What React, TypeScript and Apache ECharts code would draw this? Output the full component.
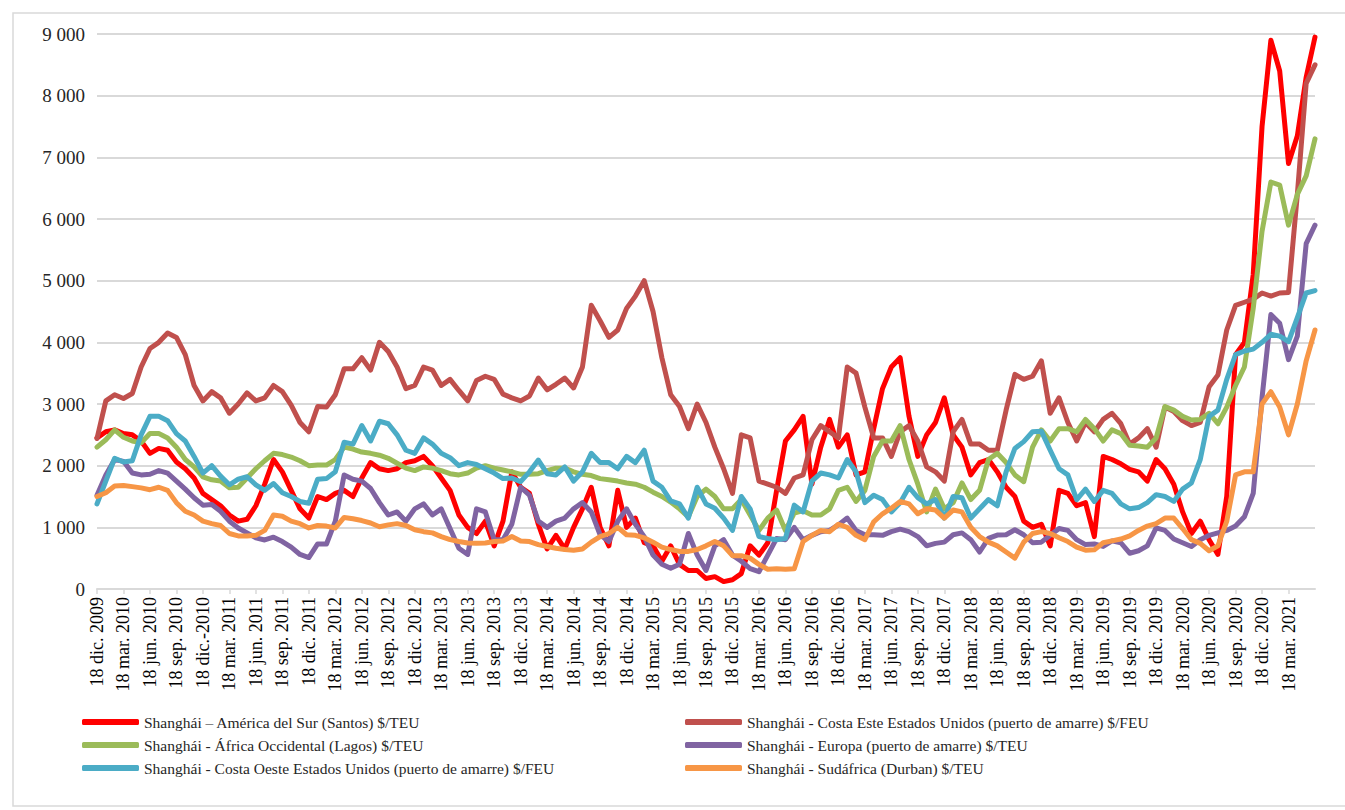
import { useEffect, useRef } from "react";
import * as echarts from "echarts";

// Quarterly tick labels (as printed on the original axis)
const quarterLabels = [
  "18 dic. 2009",
  "18 mar. 2010", "18 jun. 2010", "18 sep. 2010", "18 dic.-2010",
  "18 mar. 2011", "18 jun. 2011", "18 sep. 2011", "18 dic. 2011",
  "18 mar. 2012", "18 jun. 2012", "18 sep. 2012", "18 dic. 2012",
  "18 mar. 2013", "18 jun. 2013", "18 sep. 2013", "18 dic. 2013",
  "18 mar. 2014", "18 jun. 2014", "18 sep. 2014", "18 dic. 2014",
  "18 mar. 2015", "18 jun. 2015", "18 sep. 2015", "18 dic. 2015",
  "18 mar. 2016", "18 jun. 2016", "18 sep. 2016", "18 dic. 2016",
  "18 mar. 2017", "18 jun. 2017", "18 sep. 2017", "18 dic. 2017",
  "18 mar. 2018", "18 jun. 2018", "18 sep. 2018", "18 dic. 2018",
  "18 mar. 2019", "18 jun. 2019", "18 sep. 2019", "18 dic. 2019",
  "18 mar. 2020", "18 jun. 2020", "18 sep. 2020", "18 dic. 2020",
  "18 mar. 2021",
];

const seriesNames = [
  "Shanghái – América del Sur (Santos) $/TEU",
  "Shanghái - Costa Este Estados Unidos (puerto de amarre) $/FEU",
  "Shanghái - África Occidental (Lagos) $/TEU",
  "Shanghái - Europa (puerto de amarre) $/TEU",
  "Shanghái - Costa Oeste Estados Unidos (puerto de amarre) $/FEU",
  "Shanghái - Sudáfrica (Durban) $/TEU",
];

// Monthly readings, Dec 2009 .. Jun 2021
const santos = [
  2450,
  2550, 2580, 2520, 2500, 2400, 2200, 2280, 2250, 2060, 1950, 1800, 1550,
  1450, 1350, 1200, 1100, 1130, 1350, 1700, 2100, 1900, 1600, 1300, 1150,
  1500, 1450, 1550, 1600, 1500, 1800, 2050, 1950, 1920, 1950, 2050, 2080,
  2150, 2000, 1800, 1600, 1200, 1000, 900, 1100, 700, 1100, 1900, 1650,
  1550, 1050, 650, 870, 650, 1000, 1300, 1650, 1000, 700, 1600, 1000,
  1150, 750, 700, 450, 700, 400, 300, 300, 170, 200, 120, 150,
  250, 700, 550, 750, 1600, 2400, 2580, 2800, 1700, 2300, 2750, 2300,
  2500, 1850, 1900, 2600, 3250, 3600, 3750, 2800, 2150, 2500, 2700, 3100,
  2500, 2300, 1850, 2050, 2100, 1900, 1650, 1500, 1100, 1000, 1050, 700,
  1600, 1550, 1350, 1400, 850, 2150, 2100, 2030, 1940, 1900, 1750, 2100,
  1950, 1700, 1250, 900, 1100, 800, 560, 1500, 3800, 4000, 5100, 7500,
  8900, 8400, 6900, 7350, 8300, 8950,
];

const costaEste = [
  2440,
  3050, 3150, 3090, 3170, 3600, 3900, 4000, 4150, 4080, 3800, 3300, 3050,
  3200, 3100, 2850, 3000, 3180, 3050, 3100, 3300, 3200, 2980, 2700, 2550,
  2960, 2950, 3150, 3570, 3570, 3750, 3550, 4000, 3850, 3600, 3250, 3300,
  3600, 3550, 3300, 3400, 3220, 3050, 3380, 3450, 3400, 3160, 3100, 3050,
  3130, 3420, 3230, 3320, 3420, 3260, 3600, 4600, 4350, 4080, 4200, 4550,
  4750, 5000, 4500, 3750, 3150, 2960, 2600, 3000, 2700, 2300, 1950, 1550,
  2500, 2450, 1750, 1700, 1650, 1550, 1800, 1850, 2420, 2650, 2550, 2450,
  3600, 3500, 2950, 2450, 2450, 2150, 2550, 2650, 2400, 1980, 1900, 1750,
  2550, 2750, 2350, 2350, 2250, 2250, 2900, 3480, 3400, 3450, 3700, 2850,
  3100, 2700, 2400, 2700, 2550, 2750, 2850, 2680, 2350, 2450, 2600, 2300,
  2950, 2880, 2730, 2650, 2700, 3280, 3470, 4200, 4600, 4650, 4700, 4800,
  4750, 4800, 4810, 6400, 8200, 8500,
];

const lagos = [
  2300,
  2420, 2580, 2460, 2400, 2370, 2520, 2520, 2450, 2300, 2100, 1980, 1820,
  1770, 1750, 1640, 1650, 1800, 1950, 2080, 2200, 2180, 2140, 2080, 2000,
  2010, 2010, 2100, 2300, 2270, 2220, 2200, 2170, 2120, 2040, 1960, 1920,
  1980, 1960, 1920, 1870, 1850, 1880, 1960, 2000, 1960, 1930, 1900, 1860,
  1860, 1870, 1920, 1960, 1960, 1900, 1860, 1840, 1790, 1770, 1750, 1720,
  1700, 1650, 1570, 1500, 1410, 1300, 1170, 1500, 1620, 1500, 1300, 1300,
  1450, 1200, 950, 1150, 1280, 950, 1230, 1270, 1200, 1200, 1300, 1600,
  1650, 1420, 1600, 2150, 2400, 2400, 2650, 2100, 1700, 1250, 1620, 1300,
  1400, 1720, 1450, 1600, 2100, 2200, 2050, 1850, 1740, 2300, 2580, 2400,
  2600, 2600, 2550, 2750, 2600, 2400, 2580, 2520, 2330, 2320, 2300, 2450,
  2960, 2900, 2800, 2740, 2750, 2850, 2680, 2950, 3300, 3600, 4550, 5800,
  6600, 6550, 5900, 6400, 6700, 7300,
];

const europa = [
  1520,
  1850, 2100, 2070, 1880, 1850, 1860, 1920, 1880, 1750, 1620, 1480, 1360,
  1370, 1260, 1100, 990, 910, 830, 795, 840, 770, 680, 560, 510,
  730, 730, 1100, 1850, 1780, 1750, 1630, 1400, 1200, 1250, 1100, 1300,
  1380, 1200, 1300, 980, 660, 560, 1300, 1250, 800, 800, 1050, 1650,
  1520, 1100, 1000, 1100, 1150, 1300, 1400, 1250, 880, 770, 1100, 1300,
  1050, 850, 550, 400, 335, 400, 900, 550, 300, 700, 800, 550,
  450, 330, 280, 550, 820, 800, 1000, 800, 870, 930, 950, 1040,
  1150, 950, 880, 880, 870, 930, 970, 930, 850, 700, 740, 760,
  880, 910, 800, 600, 820, 875, 880, 960, 880, 750, 760, 870,
  980, 950, 800, 720, 730, 690, 780, 750, 580, 620, 700, 990,
  950, 810, 750, 690, 800, 870, 910, 950, 1020, 1170, 1550, 3100,
  4450, 4310, 3720, 4100, 5600, 5900,
];

const costaOeste = [
  1380,
  1750, 2120, 2060, 2080, 2500, 2800, 2800, 2730, 2520, 2400, 2150, 1880,
  2000, 1830, 1690, 1780, 1820, 1690, 1600, 1710, 1560, 1500, 1420, 1390,
  1780, 1790, 1900, 2380, 2350, 2650, 2400, 2720, 2680, 2500, 2250, 2200,
  2450, 2350, 2200, 2130, 2000, 2050, 2020, 1950, 1880, 1790, 1800, 1740,
  1900, 2090, 1870, 1850, 1980, 1750, 1900, 2200, 2050, 2050, 1950, 2150,
  2050, 2250, 1750, 1650, 1430, 1380, 1150, 1650, 1380, 1310, 1150, 950,
  1500, 1300, 850, 820, 800, 820, 1360, 1250, 1750, 1880, 1850, 1800,
  2100, 1900, 1400, 1520, 1450, 1250, 1400, 1650, 1480, 1380, 1450, 1150,
  1500, 1480, 1150, 1300, 1450, 1350, 1900, 2280, 2390, 2550, 2560, 2250,
  1950, 1850, 1450, 1620, 1420, 1600, 1550, 1380, 1300, 1320, 1400, 1530,
  1500, 1420, 1620, 1720, 2100, 2800, 2900, 3400, 3800, 3860, 3890, 4000,
  4130, 4100, 4010, 4400, 4800, 4840,
];

const durban = [
  1500,
  1560, 1670, 1680, 1660, 1640, 1610, 1650, 1600, 1400, 1260, 1200, 1100,
  1060, 1030, 900, 860, 860, 870, 950, 1200, 1180, 1100, 1060, 990,
  1030, 1020, 990, 1160, 1140, 1110, 1070, 1010, 1040, 1060, 1030, 960,
  930, 910, 850, 800, 770, 745, 740, 745, 770, 780, 850, 780,
  770, 720, 690, 660, 640, 630, 650, 760, 850, 900, 1000, 880,
  870, 830, 760, 680, 640, 610, 610, 640, 700, 770, 700, 540,
  540, 500, 400, 320, 330, 320, 330, 770, 870, 950, 930, 1050,
  1000, 870, 800, 1090, 1220, 1310, 1420, 1380, 1220, 1300, 1280, 1150,
  1280, 1250, 1000, 850, 760, 700, 600, 500, 760, 900, 930, 900,
  830, 770, 680, 630, 635, 750, 780, 810, 860, 950, 1020, 1060,
  1150, 1150, 980, 800, 740, 620, 700, 1100, 1850, 1900, 1900, 3000,
  3200, 2950, 2500, 3000, 3700, 4200,
];

const monthAbbr = ["ene.", "feb.", "mar.", "abr.", "may.", "jun.", "jul.", "ago.", "sep.", "oct.", "nov.", "dic."];

const seriesData = [santos, costaEste, lagos, europa, costaOeste, durban];
const colors = ["#FF0000", "#C0504D", "#9BBB59", "#8064A2", "#4BACC6", "#F79646"];

export default function App() {
  const ref = useRef<HTMLDivElement>(null);

  useEffect(() => {
    document.body.style.margin = "0";
    if (!ref.current) return;
    const chart = echarts.init(ref.current, null, { renderer: "svg" });

    const categories = santos.map((_, i) => {
      const t = 11 + i;
      return `${monthAbbr[t % 12]} ${2009 + Math.floor(t / 12)}`;
    });
    const lastQuarterIdx = (quarterLabels.length - 1) * 3;
    const showIdx = (i: number) => i % 3 === 0 && i <= lastQuarterIdx;

    const font = "Liberation Serif";
    const legendText = { fontSize: 15.5, color: "#262626", lineHeight: 18, fontFamily: font };

    chart.setOption({
      animation: false,
      backgroundColor: "#ffffff",
      textStyle: { fontFamily: font },
      grid: { left: 97, right: 1345 - 1315, top: 34, bottom: 810 - 589 },
      xAxis: {
        type: "category",
        data: categories,
        boundaryGap: false,
        axisLine: { lineStyle: { color: "#d9d9d9", width: 2 } },
        axisTick: {
          show: true,
          interval: (i: number) => showIdx(i),
          length: 5,
          lineStyle: { color: "#d9d9d9", width: 1.5 },
        },
        axisLabel: {
          interval: (i: number) => showIdx(i),
          rotate: 90,
          formatter: (_v: string, i: number) => (showIdx(i) ? quarterLabels[i / 3] : ""),
          fontSize: 18,
          color: "#000000",
          margin: 8,
          fontFamily: font,
        },
        splitLine: { show: false },
      },
      yAxis: {
        type: "value",
        min: 0,
        max: 9000,
        interval: 1000,
        axisLine: { show: false },
        axisTick: { show: false },
        axisLabel: {
          formatter: (v: number) =>
            v >= 1000 ? `${Math.floor(v / 1000)} ${String(v % 1000).padStart(3, "0")}` : String(v),
          fontSize: 19,
          color: "#262626",
          margin: 12,
          fontFamily: font,
        },
        splitLine: { lineStyle: { color: "#d9d9d9", width: 2 } },
      },
      legend: [
        {
          left: 77,
          top: 708,
          orient: "vertical",
          itemWidth: 57,
          itemHeight: 6,
          itemGap: 5,
          icon: "roundRect",
          selectedMode: false,
          data: [seriesNames[0], seriesNames[2], seriesNames[4]],
          textStyle: legendText,
        },
        {
          left: 680,
          top: 708,
          orient: "vertical",
          itemWidth: 57,
          itemHeight: 6,
          itemGap: 5,
          icon: "roundRect",
          selectedMode: false,
          data: [seriesNames[1], seriesNames[3], seriesNames[5]],
          textStyle: legendText,
        },
      ],
      graphic: [
        {
          type: "rect",
          silent: true,
          z: -10,
          shape: { x: 13, y: 13, width: 1345, height: 793 },
          style: { fill: "none", stroke: "#d9d9d9", lineWidth: 1.5 },
        },
      ],
      series: seriesNames.map((name, k) => ({
        name,
        type: "line",
        data: seriesData[k],
        showSymbol: false,
        symbol: "none",
        smooth: false,
        emphasis: { disabled: true },
        itemStyle: { color: colors[k] },
        lineStyle: { width: 5, color: colors[k], cap: "round", join: "round" },
      })),
    });

    return () => chart.dispose();
  }, []);

  return <div ref={ref} style={{ width: 1345, height: 810, overflow: "hidden" }} />;
}
